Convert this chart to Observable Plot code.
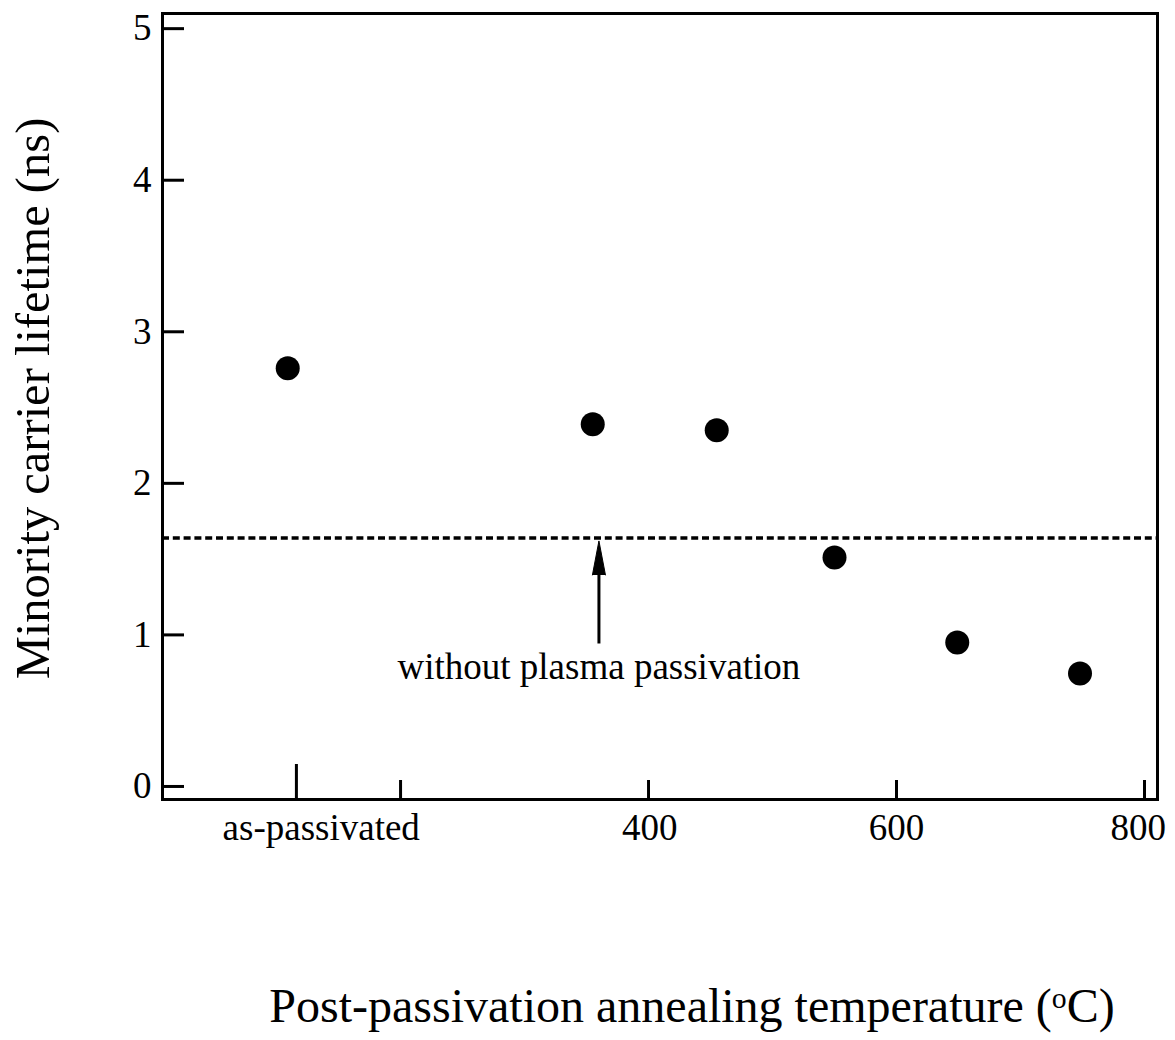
<!DOCTYPE html>
<html><head><meta charset="utf-8">
<script src="https://cdn.jsdelivr.net/npm/d3@7"></script>
<script src="https://cdn.jsdelivr.net/npm/@observablehq/plot@0.6"></script>
<style>body{margin:0;background:#fff} svg{display:block}</style>
</head><body><div id="chart"></div>
<script>
// ---- data ----
const pointTemps = [109, 355, 455, 550, 649, 748];
const lifetimes = [2.76, 2.39, 2.35, 1.51, 0.95, 0.745];
const referenceLifetime = 1.64;           // "without plasma passivation" level
const yTickValues = [0, 1, 2, 3, 4, 5];
const xMajorTicks = [200, 400, 600, 800];
const asPassivatedTick = [116];
const xLabelPositions = [136, 401, 600, 795];
const xLabelTexts = ["as-passivated", "400", "600", "800"];
const arrowX = [360];
const arrowBase = [0.94];
const arrowTip = [1.62];
const annotationTexts = ["without plasma passivation"];
const annotationY = [0.79];
const yTitle = "Minority carrier lifetime (ns)";
const xTitleParts = ["Post-passivation annealing temperature (", "o", "C)"];

// ---- layout ----
const W = 1175, H = 1040;
const mL = 162, mR = 18, mT = 13, mB = 241;
const xDomain = [8, 810.5];
const yDomain = [-0.086, 5.10];
const kx = (W - mL - mR) / (xDomain[1] - xDomain[0]);
const ky = (H - mT - mB) / (yDomain[1] - yDomain[0]);

const points = pointTemps.map((t, i) => ({t, v: lifetimes[i]}));
const labelMap = new Map(xLabelPositions.map((p, i) => [p, xLabelTexts[i]]));
const font = "'Liberation Serif', 'Times New Roman', Times, serif";

const chart = Plot.plot({
  width: W, height: H,
  marginLeft: mL, marginRight: mR, marginTop: mT, marginBottom: mB,
  style: {fontFamily: font, fontSize: "37px", background: "white", color: "black"},
  x: {domain: xDomain},
  y: {domain: yDomain},
  marks: [
    // axis tick labels
    Plot.axisY(yTickValues, {tickSize: 0, tickPadding: 11, fontSize: 37, label: null,
      tickFormat: d => String(d)}),
    Plot.axisX(xLabelPositions, {tickSize: 0, tickPadding: 14, fontSize: 37, label: null,
      tickFormat: d => labelMap.get(d)}),
    // inward tick marks
    Plot.ruleY(yTickValues, {y: d => d, x1: xDomain[0], x2: xDomain[0] + 22 / kx, strokeWidth: 3}),
    Plot.ruleX(xMajorTicks, {x: d => d, y1: yDomain[0], y2: yDomain[0] + 19 / ky, strokeWidth: 3}),
    Plot.ruleX(asPassivatedTick, {x: d => d, y1: yDomain[0], y2: yDomain[0] + 35 / ky, strokeWidth: 3}),
    // reference (dotted) line
    Plot.ruleY([referenceLifetime], {strokeWidth: 3.5, strokeDasharray: "7,3.8"}),
    // arrow shaft + head
    Plot.ruleX(arrowX, {x: d => d, y1: (d, i) => arrowBase[i], y2: (d, i) => arrowTip[i] - 28 / ky, strokeWidth: 3}),
    Plot.vector(arrowX, {x: d => d, y: (d, i) => arrowTip[i], anchor: "end", length: 34, rotate: 0,
      shape: "spike", r: 6.5, fill: "black", stroke: "black", strokeWidth: 1}),
    Plot.text(annotationTexts, {x: arrowX[0], y: (d, i) => annotationY[i], text: d => d, fontSize: 37}),
    // data points
    Plot.dot(points, {x: "t", y: "v", r: 12, fill: "black", stroke: "none"}),
    // frame
    Plot.frame({strokeWidth: 3}),
    // axis titles
    Plot.text([yTitle], {frameAnchor: "left", textAnchor: "middle", lineAnchor: "middle",
      rotate: -90, dx: -129, dy: -8, fontSize: 48.5, text: d => d}),
    Plot.text([xTitleParts.join("")], {frameAnchor: "bottom", textAnchor: "middle", lineAnchor: "bottom",
      dx: 32, dy: 222, fontSize: 48, text: d => d})
  ]
});

// superscript "o" in the x title
d3.select(chart).selectAll("text").filter(function () {
  return this.textContent === xTitleParts.join("");
}).each(function () {
  const t = d3.select(this);
  t.text(null);
  t.append("tspan").text(xTitleParts[0]);
  t.append("tspan").attr("dy", "-0.45em").attr("font-size", "0.62em").text(xTitleParts[1]);
  t.append("tspan").attr("dy", "0.28em").text(xTitleParts[2]);
});

document.getElementById("chart").appendChild(chart);
</script>
</body></html>
